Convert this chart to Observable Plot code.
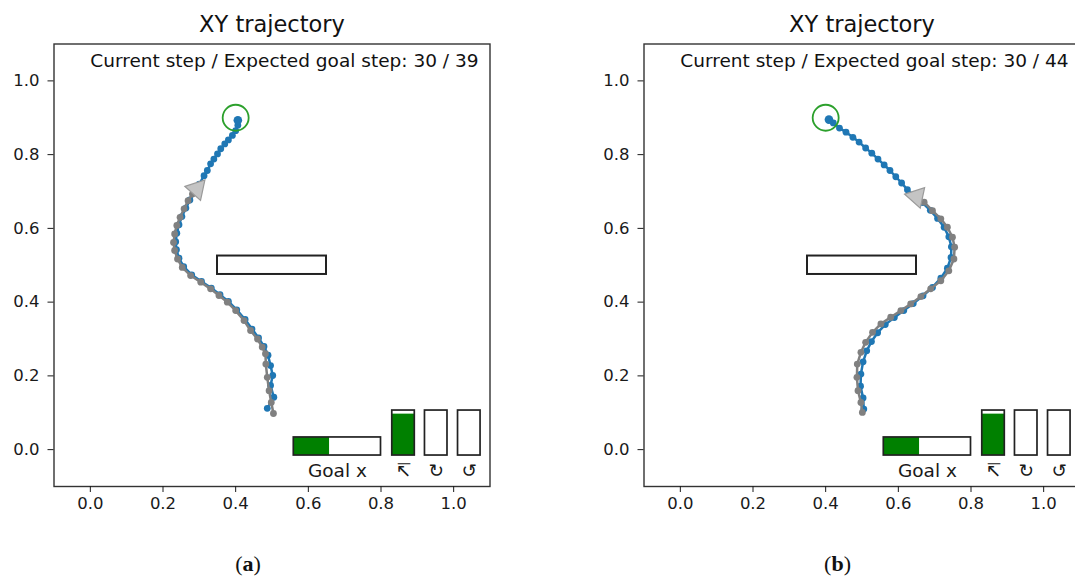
<!DOCTYPE html>
<html><head><meta charset="utf-8">
<script src="https://cdn.jsdelivr.net/npm/d3@7"></script>
<script src="https://cdn.jsdelivr.net/npm/@observablehq/plot@0.6"></script>
<style>
html,body{margin:0;padding:0;background:#fff;overflow:hidden;width:1075px;height:579px;}
#wrap{position:relative;width:1075px;height:579px;overflow:hidden;}
.panel{position:absolute;top:0;}
.cap{position:absolute;top:553px;font-family:"Liberation Serif","DejaVu Serif",serif;font-size:22px;line-height:22px;width:100px;text-align:center;color:#111;}
</style></head><body><div id="wrap"></div>
<script>
const ticks = [0, 0.2, 0.4, 0.6, 0.8, 1.0];
const titleText = "XY trajectory";
const stepTextA = "Current step / Expected goal step: 30 / 39";
const stepTextB = "Current step / Expected goal step: 30 / 44";
const captions = ["a", "b"];
const goal = [0.4, 0.9];
const obstacleX = [0.35, 0.65];
const obstacleY = [0.475, 0.525];
const barLabels = ["Goal x", "↸", "↻", "↺"];
const barValues = [0.41, 0.92, 0, 0];

const grayA = [[0.504,0.098],[0.498,0.128],[0.492,0.160],[0.487,0.196],[0.483,0.232],[0.482,0.260],[0.473,0.278],[0.460,0.300],[0.441,0.323],[0.423,0.350],[0.400,0.377],[0.377,0.400],[0.354,0.418],[0.331,0.436],[0.304,0.454],[0.276,0.472],[0.253,0.494],[0.240,0.517],[0.232,0.540],[0.229,0.562],[0.232,0.585],[0.238,0.608],[0.247,0.630],[0.258,0.653],[0.269,0.675],[0.281,0.693],[0.293,0.707]];
const blueA = [[0.487,0.112],[0.505,0.142],[0.496,0.174],[0.502,0.201],[0.496,0.228],[0.489,0.256],[0.478,0.280],[0.463,0.303],[0.445,0.327],[0.426,0.353],[0.403,0.379],[0.380,0.402],[0.357,0.420],[0.333,0.438],[0.306,0.456],[0.279,0.474],[0.257,0.496],[0.244,0.519],[0.237,0.542],[0.235,0.564],[0.238,0.587],[0.244,0.610],[0.252,0.632],[0.263,0.655],[0.274,0.677],[0.287,0.698],[0.300,0.720],[0.313,0.743],[0.322,0.757],[0.331,0.775],[0.340,0.788],[0.350,0.802],[0.359,0.816],[0.370,0.829],[0.380,0.840],[0.391,0.852],[0.400,0.865],[0.406,0.880],[0.406,0.893]];
const triangleA = [0.293, 0.707];

const grayB = [[0.501,0.101],[0.497,0.128],[0.489,0.160],[0.486,0.196],[0.487,0.232],[0.497,0.264],[0.510,0.291],[0.529,0.318],[0.552,0.341],[0.579,0.359],[0.607,0.377],[0.634,0.395],[0.662,0.415],[0.689,0.436],[0.717,0.458],[0.739,0.485],[0.753,0.517],[0.755,0.549],[0.749,0.576],[0.735,0.603],[0.717,0.626],[0.694,0.648],[0.671,0.671],[0.650,0.686]];
const blueB = [[0.505,0.110],[0.503,0.140],[0.496,0.172],[0.497,0.205],[0.503,0.238],[0.513,0.268],[0.526,0.293],[0.543,0.317],[0.564,0.339],[0.589,0.358],[0.615,0.377],[0.641,0.396],[0.668,0.417],[0.694,0.440],[0.717,0.465],[0.735,0.492],[0.745,0.521],[0.746,0.550],[0.739,0.577],[0.726,0.603],[0.708,0.627],[0.688,0.649],[0.666,0.670],[0.643,0.689],[0.625,0.705],[0.609,0.723],[0.593,0.740],[0.577,0.757],[0.561,0.772],[0.544,0.788],[0.527,0.804],[0.510,0.818],[0.492,0.834],[0.475,0.847],[0.456,0.861],[0.438,0.872],[0.421,0.886],[0.409,0.895]];
const triangleB = [0.650, 0.686];

function panel(blue, gray, tri, stepText) {
  const toObj = a => a.map(([x, y]) => ({x, y}));
  const B = toObj(blue), G = toObj(gray);
  // layout of the indicator bars (in data coordinates)
  const gx0 = 0.56, gx1 = 0.80, gy0 = -0.016, gy1 = 0.033;
  const vx = [0.831, 0.921, 1.012], vw = 0.062, vy0 = -0.016, vy1 = 0.106;
  const goalFill = [{x1: gx0, x2: gx0 + barValues[0] * (gx1 - gx0), y1: gy0, y2: gy1}];
  const vbars = vx.map((x, i) => ({x1: x, x2: x + vw, y1: vy0, y2: vy1, v: barValues[i + 1]}));
  const allBars = [{x1: gx0, x2: gx1, y1: gy0, y2: gy1}, ...vbars];
  const vfills = vbars.filter(b => b.v > 0).map(b => ({...b, y2: vy0 + b.v * (vy1 - vy0)}));
  const labels = [{x: (gx0 + gx1) / 2, t: barLabels[0]}, ...vbars.map((b, i) => ({x: b.x1 + vw / 2, t: barLabels[i + 1]}))];
  const R = {x1: "x1", x2: "x2", y1: "y1", y2: "y2"};
  const fmt = d3.format(".1f");
  return Plot.plot({
    width: 500, height: 530,
    marginLeft: 53.5, marginRight: 10.5, marginTop: 43.5, marginBottom: 44,
    x: {domain: [-0.1, 1.1]}, y: {domain: [-0.1, 1.1]},
    style: {fontFamily: "DejaVu Sans", fontSize: "16.5px", color: "#1a1a1a", background: "transparent", overflow: "visible"},
    marks: [
      Plot.rect(allBars, {...R, fill: "white"}),
      Plot.rect(goalFill, {...R, fill: "#008000"}),
      Plot.rect(vfills, {...R, fill: "#008000"}),
      Plot.rect(allBars, {...R, fill: "none", stroke: "#222", strokeWidth: 1.7}),
      Plot.text(labels, {x: "x", y: () => -0.058, text: "t", fontSize: 18.5, fill: "#1a1a1a", lineAnchor: "middle"}),
      Plot.rect([0], {x1: () => obstacleX[0], x2: () => obstacleX[1], y1: () => obstacleY[0], y2: () => obstacleY[1], fill: "white", stroke: "#222", strokeWidth: 2}),
      Plot.line(B, {x: "x", y: "y", stroke: "#1f77b4", strokeWidth: 2.5}),
      Plot.dot(B, {x: "x", y: "y", r: 3.4, fill: "#1f77b4"}),
      Plot.dot(B.slice(-1), {x: "x", y: "y", r: 4.3, fill: "#1f77b4"}),
      Plot.line(G, {x: "x", y: "y", stroke: "#808080", strokeWidth: 2.5}),
      Plot.dot(G, {x: "x", y: "y", r: 3.4, fill: "#808080"}),
      Plot.dot([tri], {x: d => d[0], y: d => d[1], symbol: "triangle", r: 7.8, rotate: -78, fill: "#c4c4c4", stroke: "#9a9a9a", strokeWidth: 1.2}),
      Plot.dot([goal], {x: d => d[0], y: d => d[1], r: 13, fill: "none", stroke: "#2ca02c", strokeWidth: 1.8}),
      Plot.frame({stroke: "#333", strokeWidth: 1.4}),
      Plot.axisX({ticks, tickFormat: fmt, tickSize: 6, tickPadding: 5, label: null}),
      Plot.axisY({ticks, tickFormat: fmt, tickSize: 6, tickPadding: 8.5, label: null}),
      Plot.text([titleText], {text: d => d, frameAnchor: "top", lineAnchor: "middle", dy: -19, fontSize: 22.5, fill: "#111"}),
      Plot.text([stepText], {text: d => d, frameAnchor: "top-right", lineAnchor: "middle", textAnchor: "end", dx: -11.5, dy: 17, fontSize: 18.5, fill: "#111"})
    ]
  });
}

const wrap = document.getElementById("wrap");
const pa = panel(blueA, grayA, triangleA, stepTextA);
pa.classList.add("panel"); pa.style.left = "0px";
const pb = panel(blueB, grayB, triangleB, stepTextB);
pb.classList.add("panel"); pb.style.left = "589.5px";
wrap.appendChild(pa); wrap.appendChild(pb);
[248, 837.5].forEach((cx, i) => {
  const d = document.createElement("div");
  d.className = "cap";
  d.style.left = (cx - 50) + "px";
  d.innerHTML = "(<b>" + captions[i] + "</b>)";
  wrap.appendChild(d);
});
</script>
</body></html>
